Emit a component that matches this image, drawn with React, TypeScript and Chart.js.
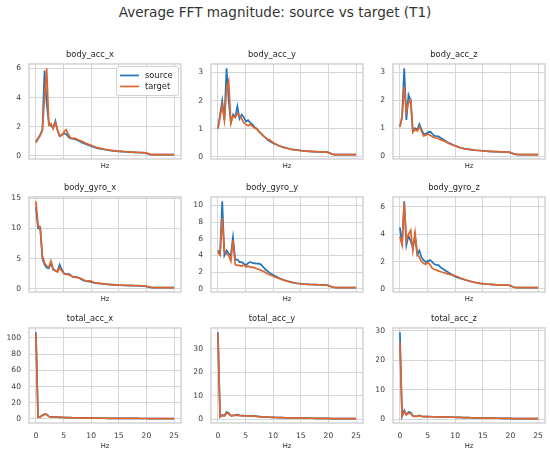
import React, { useEffect, useRef } from "react";
import { Chart, registerables } from "chart.js";

Chart.register(...registerables);

const FONT = "'DejaVu Sans', 'Liberation Sans', sans-serif";
const SOURCE_COLOR = "#1f74bb";
const TARGET_COLOR = "#e0652d";
const GRID_COLOR = "#d6d6d6";
const FRAME_COLOR = "#cccccc";
const TEXT_COLOR = "#262626";
const TICK_COLOR = "#3a3a3a";

const MAIN_TITLE = "Average FFT magnitude: source vs target (T1)";
const X_LABEL = "Hz";
const SERIES_NAMES = ["source", "target"];
const PANEL_TITLES = [
  "body_acc_x", "body_acc_y", "body_acc_z",
  "body_gyro_x", "body_gyro_y", "body_gyro_z",
  "total_acc_x", "total_acc_y", "total_acc_z",
];

const HZ = [
  0.00, 0.39, 0.78, 1.17, 1.56, 1.95, 2.34, 2.73, 3.13, 3.52,
  3.91, 4.30, 4.69, 5.08, 5.47, 5.86, 6.25, 6.64, 7.03, 7.42,
  7.81, 8.20, 8.59, 8.98, 9.38, 9.77, 10.16, 10.55, 10.94, 11.33,
  11.72, 12.11, 12.50, 12.89, 13.28, 13.67, 14.06, 14.45, 14.84, 15.23,
  15.63, 16.02, 16.41, 16.80, 17.19, 17.58, 17.97, 18.36, 18.75, 19.14,
  19.53, 19.92, 20.31, 20.70, 21.09, 21.48, 21.88, 22.27, 22.66, 23.05,
  23.44, 23.83, 24.22, 24.61, 25.00,
];
const X_TICKS = [0, 5, 10, 15, 20, 25];

const BODY_ACC_X_SOURCE = [
  1.00, 1.20, 1.45, 1.80, 5.85, 3.60, 2.25, 2.05, 1.95, 2.40,
  1.75, 1.35, 1.45, 1.55, 1.50, 1.30, 1.20, 1.18, 1.15, 1.10,
  1.02, 0.95, 0.88, 0.82, 0.76, 0.70, 0.65, 0.60, 0.56, 0.52,
  0.49, 0.46, 0.43, 0.41, 0.39, 0.37, 0.35, 0.33, 0.32, 0.31,
  0.30, 0.29, 0.28, 0.27, 0.26, 0.25, 0.25, 0.24, 0.23, 0.23,
  0.22, 0.20, 0.15, 0.11, 0.09, 0.09, 0.09, 0.09, 0.09, 0.09,
  0.09, 0.09, 0.09, 0.09, 0.09,
];
const BODY_ACC_X_TARGET = [
  0.90, 1.15, 1.40, 1.75, 4.00, 6.00, 2.10, 2.20, 1.85, 2.30,
  1.80, 1.35, 1.40, 1.65, 1.80, 1.50, 1.25, 1.20, 1.22, 1.15,
  1.08, 1.02, 0.95, 0.88, 0.82, 0.76, 0.70, 0.65, 0.60, 0.56,
  0.52, 0.49, 0.46, 0.43, 0.41, 0.39, 0.37, 0.35, 0.33, 0.32,
  0.31, 0.30, 0.29, 0.28, 0.27, 0.26, 0.25, 0.25, 0.24, 0.24,
  0.23, 0.21, 0.16, 0.11, 0.09, 0.09, 0.09, 0.09, 0.09, 0.09,
  0.09, 0.09, 0.09, 0.09, 0.09,
];
const BODY_ACC_Y_SOURCE = [
  1.00, 1.50, 2.00, 1.30, 3.15, 2.00, 1.20, 1.50, 1.40, 1.80,
  1.35, 1.50, 1.40, 1.25, 1.30, 1.20, 1.15, 1.05, 1.00, 0.90,
  0.82, 0.75, 0.68, 0.60, 0.55, 0.50, 0.46, 0.43, 0.40, 0.37,
  0.34, 0.32, 0.30, 0.28, 0.26, 0.25, 0.24, 0.23, 0.22, 0.21,
  0.20, 0.20, 0.19, 0.19, 0.18, 0.18, 0.17, 0.17, 0.17, 0.16,
  0.16, 0.15, 0.12, 0.09, 0.07, 0.07, 0.07, 0.07, 0.07, 0.07,
  0.07, 0.07, 0.07, 0.07, 0.07,
];
const BODY_ACC_Y_TARGET = [
  1.00, 1.40, 1.85, 1.30, 2.40, 2.70, 1.20, 1.45, 1.40, 1.55,
  1.45, 1.35, 1.20, 1.15, 1.10, 1.15, 1.08, 1.02, 0.98, 0.90,
  0.82, 0.74, 0.68, 0.62, 0.60, 0.53, 0.48, 0.44, 0.40, 0.37,
  0.34, 0.32, 0.30, 0.28, 0.26, 0.25, 0.24, 0.23, 0.22, 0.21,
  0.20, 0.20, 0.19, 0.19, 0.18, 0.18, 0.18, 0.17, 0.17, 0.17,
  0.16, 0.15, 0.12, 0.09, 0.07, 0.07, 0.07, 0.07, 0.07, 0.07,
  0.07, 0.07, 0.07, 0.07, 0.07,
];
const BODY_ACC_Z_SOURCE = [
  1.05, 1.40, 3.15, 1.30, 2.20, 2.00, 0.90, 1.00, 0.95, 1.15,
  0.95, 0.80, 0.80, 0.85, 0.88, 0.80, 0.72, 0.72, 0.70, 0.65,
  0.60, 0.55, 0.50, 0.46, 0.42, 0.39, 0.36, 0.33, 0.30, 0.28,
  0.26, 0.25, 0.24, 0.23, 0.22, 0.21, 0.20, 0.20, 0.19, 0.18,
  0.18, 0.17, 0.17, 0.16, 0.16, 0.16, 0.15, 0.15, 0.15, 0.15,
  0.14, 0.13, 0.10, 0.07, 0.06, 0.05, 0.05, 0.05, 0.05, 0.05,
  0.05, 0.05, 0.05, 0.05, 0.05,
];
const BODY_ACC_Z_TARGET = [
  1.05, 1.40, 2.50, 1.60, 1.90, 2.00, 0.85, 0.95, 0.90, 1.05,
  0.90, 0.72, 0.75, 0.80, 0.75, 0.70, 0.66, 0.65, 0.62, 0.58,
  0.55, 0.52, 0.48, 0.44, 0.41, 0.38, 0.35, 0.32, 0.30, 0.28,
  0.26, 0.25, 0.24, 0.23, 0.22, 0.21, 0.20, 0.20, 0.19, 0.18,
  0.18, 0.17, 0.17, 0.16, 0.16, 0.16, 0.15, 0.15, 0.15, 0.15,
  0.14, 0.13, 0.10, 0.07, 0.06, 0.05, 0.05, 0.05, 0.05, 0.05,
  0.05, 0.05, 0.05, 0.05, 0.05,
];
const BODY_GYRO_X_SOURCE = [
  13.50, 10.00, 10.00, 5.00, 4.00, 3.50, 3.40, 4.20, 3.20, 3.00,
  2.90, 4.00, 3.20, 2.60, 2.40, 2.50, 2.30, 2.00, 2.00, 1.95,
  1.80, 1.60, 1.40, 1.30, 1.25, 1.20, 1.10, 1.00, 0.95, 0.90,
  0.85, 0.82, 0.78, 0.75, 0.72, 0.70, 0.67, 0.65, 0.62, 0.60,
  0.58, 0.57, 0.56, 0.55, 0.54, 0.53, 0.52, 0.52, 0.51, 0.50,
  0.47, 0.42, 0.34, 0.26, 0.22, 0.20, 0.20, 0.20, 0.20, 0.20,
  0.20, 0.20, 0.20, 0.20, 0.20,
];
const BODY_GYRO_X_TARGET = [
  14.50, 10.50, 10.30, 5.50, 4.30, 3.80, 3.60, 4.60, 3.30, 3.00,
  2.80, 3.50, 3.00, 2.50, 2.40, 2.40, 2.20, 2.00, 1.90, 1.90,
  1.80, 1.70, 1.50, 1.35, 1.30, 1.35, 1.20, 1.05, 1.00, 0.95,
  0.90, 0.86, 0.82, 0.78, 0.75, 0.72, 0.70, 0.67, 0.65, 0.63,
  0.61, 0.60, 0.59, 0.58, 0.57, 0.56, 0.55, 0.54, 0.53, 0.52,
  0.50, 0.45, 0.36, 0.28, 0.23, 0.21, 0.21, 0.21, 0.21, 0.21,
  0.21, 0.21, 0.21, 0.21, 0.21,
];
const BODY_GYRO_Y_SOURCE = [
  4.60, 4.20, 10.50, 4.00, 4.60, 4.20, 4.00, 6.20, 3.50, 3.50,
  3.20, 3.20, 3.00, 2.80, 3.10, 3.20, 3.10, 3.05, 3.00, 3.00,
  2.90, 2.60, 2.30, 2.10, 1.90, 1.75, 1.60, 1.45, 1.30, 1.20,
  1.10, 1.00, 0.92, 0.85, 0.78, 0.72, 0.67, 0.63, 0.60, 0.57,
  0.55, 0.53, 0.52, 0.50, 0.50, 0.49, 0.48, 0.47, 0.46, 0.45,
  0.44, 0.40, 0.30, 0.20, 0.15, 0.13, 0.13, 0.13, 0.13, 0.13,
  0.13, 0.13, 0.13, 0.13, 0.13,
];
const BODY_GYRO_Y_TARGET = [
  4.40, 4.00, 8.50, 4.50, 4.20, 4.00, 3.30, 5.80, 2.90, 2.80,
  2.80, 2.70, 2.90, 2.60, 2.70, 2.60, 2.60, 2.50, 2.40, 2.30,
  2.20, 2.10, 1.95, 1.80, 1.68, 1.55, 1.45, 1.35, 1.25, 1.15,
  1.06, 0.98, 0.90, 0.83, 0.77, 0.71, 0.66, 0.62, 0.59, 0.56,
  0.54, 0.52, 0.51, 0.50, 0.49, 0.48, 0.47, 0.46, 0.45, 0.44,
  0.43, 0.39, 0.29, 0.19, 0.14, 0.12, 0.12, 0.12, 0.12, 0.12,
  0.12, 0.12, 0.12, 0.12, 0.12,
];
const BODY_GYRO_Z_SOURCE = [
  4.50, 3.20, 6.40, 3.20, 3.90, 3.50, 3.00, 3.90, 2.50, 2.80,
  2.30, 2.10, 1.95, 2.05, 2.10, 1.95, 1.80, 1.75, 1.72, 1.55,
  1.45, 1.35, 1.25, 1.15, 1.05, 0.95, 0.88, 0.82, 0.76, 0.72,
  0.67, 0.62, 0.58, 0.54, 0.50, 0.47, 0.44, 0.41, 0.39, 0.37,
  0.35, 0.34, 0.33, 0.32, 0.31, 0.30, 0.30, 0.29, 0.29, 0.28,
  0.28, 0.25, 0.18, 0.12, 0.10, 0.09, 0.09, 0.09, 0.09, 0.09,
  0.09, 0.09, 0.09, 0.09, 0.09,
];
const BODY_GYRO_Z_TARGET = [
  3.80, 3.20, 6.30, 3.50, 4.00, 4.30, 2.80, 4.10, 2.60, 2.30,
  2.00, 1.85, 1.80, 1.95, 1.75, 1.50, 1.42, 1.38, 1.30, 1.25,
  1.20, 1.15, 1.10, 1.05, 1.02, 1.00, 0.93, 0.87, 0.80, 0.74,
  0.68, 0.63, 0.58, 0.54, 0.50, 0.47, 0.44, 0.41, 0.39, 0.37,
  0.35, 0.34, 0.33, 0.32, 0.31, 0.30, 0.30, 0.29, 0.29, 0.28,
  0.28, 0.25, 0.18, 0.12, 0.10, 0.09, 0.09, 0.09, 0.09, 0.09,
  0.09, 0.09, 0.09, 0.09, 0.09,
];
const TOTAL_ACC_X_SOURCE = [
  107.0, 2.0, 2.5, 4.5, 6.0, 5.5, 3.0, 2.5, 2.5, 2.7,
  2.2, 2.0, 1.9, 1.8, 1.7, 1.6, 1.5, 1.45, 1.4, 1.35,
  1.3, 1.25, 1.2, 1.15, 1.1, 1.05, 1.0, 0.97, 0.94, 0.91,
  0.88, 0.85, 0.82, 0.8, 0.78, 0.76, 0.74, 0.72, 0.7, 0.68,
  0.66, 0.64, 0.62, 0.6, 0.59, 0.58, 0.57, 0.56, 0.55, 0.54,
  0.53, 0.5, 0.42, 0.35, 0.32, 0.31, 0.3, 0.3, 0.3, 0.3,
  0.3, 0.3, 0.3, 0.3, 0.3,
];
const TOTAL_ACC_X_TARGET = [
  105.5, 1.8, 2.3, 4.2, 5.8, 5.7, 3.0, 2.4, 2.4, 2.5,
  2.1, 1.95, 1.85, 1.75, 1.65, 1.55, 1.5, 1.45, 1.4, 1.35,
  1.3, 1.25, 1.2, 1.15, 1.1, 1.05, 1.0, 0.97, 0.94, 0.91,
  0.88, 0.85, 0.82, 0.8, 0.78, 0.76, 0.74, 0.72, 0.7, 0.68,
  0.66, 0.64, 0.62, 0.6, 0.59, 0.58, 0.57, 0.56, 0.55, 0.54,
  0.53, 0.5, 0.42, 0.35, 0.32, 0.31, 0.3, 0.3, 0.3, 0.3,
  0.3, 0.3, 0.3, 0.3, 0.3,
];
const TOTAL_ACC_Y_SOURCE = [
  37.0, 1.0, 1.8, 1.5, 3.0, 2.3, 1.5, 1.6, 1.7, 1.9,
  1.6, 1.5, 1.5, 1.45, 1.4, 1.35, 1.3, 1.25, 1.2, 1.1,
  1.0, 0.95, 0.9, 0.86, 0.82, 0.78, 0.74, 0.7, 0.67, 0.64,
  0.61, 0.58, 0.56, 0.54, 0.52, 0.5, 0.48, 0.46, 0.45, 0.44,
  0.42, 0.41, 0.4, 0.39, 0.38, 0.37, 0.36, 0.35, 0.34, 0.33,
  0.32, 0.3, 0.25, 0.21, 0.2, 0.2, 0.2, 0.2, 0.2, 0.2,
  0.2, 0.2, 0.2, 0.2, 0.2,
];
const TOTAL_ACC_Y_TARGET = [
  36.6, 1.0, 1.5, 1.3, 2.5, 2.7, 1.4, 1.5, 1.6, 1.6,
  1.5, 1.45, 1.45, 1.4, 1.38, 1.34, 1.3, 1.25, 1.2, 1.1,
  1.0, 0.95, 0.9, 0.86, 0.82, 0.78, 0.74, 0.7, 0.67, 0.64,
  0.61, 0.58, 0.56, 0.54, 0.52, 0.5, 0.48, 0.46, 0.45, 0.44,
  0.42, 0.41, 0.4, 0.39, 0.38, 0.37, 0.36, 0.35, 0.34, 0.33,
  0.32, 0.3, 0.25, 0.21, 0.2, 0.2, 0.2, 0.2, 0.2, 0.2,
  0.2, 0.2, 0.2, 0.2, 0.2,
];
const TOTAL_ACC_Z_SOURCE = [
  29.5, 1.0, 3.0, 1.5, 2.5, 2.3, 1.2, 1.0, 1.1, 1.3,
  1.0, 0.9, 0.9, 0.88, 0.86, 0.85, 0.84, 0.82, 0.8, 0.78,
  0.76, 0.74, 0.72, 0.7, 0.69, 0.68, 0.66, 0.63, 0.6, 0.58,
  0.56, 0.54, 0.52, 0.5, 0.48, 0.46, 0.44, 0.42, 0.41, 0.4,
  0.39, 0.38, 0.37, 0.36, 0.35, 0.34, 0.33, 0.32, 0.31, 0.3,
  0.3, 0.28, 0.23, 0.2, 0.19, 0.19, 0.19, 0.19, 0.19, 0.19,
  0.19, 0.19, 0.19, 0.19, 0.19,
];
const TOTAL_ACC_Z_TARGET = [
  26.0, 1.0, 2.5, 1.6, 2.1, 2.0, 1.1, 0.95, 1.0, 1.2,
  0.95, 0.88, 0.88, 0.86, 0.85, 0.84, 0.83, 0.81, 0.79, 0.77,
  0.76, 0.74, 0.72, 0.7, 0.69, 0.68, 0.66, 0.63, 0.6, 0.58,
  0.56, 0.54, 0.52, 0.5, 0.48, 0.46, 0.44, 0.42, 0.41, 0.4,
  0.39, 0.38, 0.37, 0.36, 0.35, 0.34, 0.33, 0.32, 0.31, 0.3,
  0.3, 0.28, 0.23, 0.2, 0.19, 0.19, 0.19, 0.19, 0.19, 0.19,
  0.19, 0.19, 0.19, 0.19, 0.19,
];

const Y_TICKS_BODY_ACC_X = [0, 2, 4, 6];
const Y_TICKS_BODY_ACC_Y = [0, 1, 2, 3];
const Y_TICKS_BODY_ACC_Z = [0, 1, 2, 3];
const Y_TICKS_BODY_GYRO_X = [0, 5, 10, 15];
const Y_TICKS_BODY_GYRO_Y = [0, 2, 4, 6, 8, 10];
const Y_TICKS_BODY_GYRO_Z = [0, 2, 4, 6];
const Y_TICKS_TOTAL_ACC_X = [0, 20, 40, 60, 80, 100];
const Y_TICKS_TOTAL_ACC_Y = [0, 10, 20, 30];
const Y_TICKS_TOTAL_ACC_Z = [0, 10, 20, 30];

const PANELS = [
  { source: BODY_ACC_X_SOURCE, target: BODY_ACC_X_TARGET, yTicks: Y_TICKS_BODY_ACC_X },
  { source: BODY_ACC_Y_SOURCE, target: BODY_ACC_Y_TARGET, yTicks: Y_TICKS_BODY_ACC_Y },
  { source: BODY_ACC_Z_SOURCE, target: BODY_ACC_Z_TARGET, yTicks: Y_TICKS_BODY_ACC_Z },
  { source: BODY_GYRO_X_SOURCE, target: BODY_GYRO_X_TARGET, yTicks: Y_TICKS_BODY_GYRO_X },
  { source: BODY_GYRO_Y_SOURCE, target: BODY_GYRO_Y_TARGET, yTicks: Y_TICKS_BODY_GYRO_Y },
  { source: BODY_GYRO_Z_SOURCE, target: BODY_GYRO_Z_TARGET, yTicks: Y_TICKS_BODY_GYRO_Z },
  { source: TOTAL_ACC_X_SOURCE, target: TOTAL_ACC_X_TARGET, yTicks: Y_TICKS_TOTAL_ACC_X },
  { source: TOTAL_ACC_Y_SOURCE, target: TOTAL_ACC_Y_TARGET, yTicks: Y_TICKS_TOTAL_ACC_Y },
  { source: TOTAL_ACC_Z_SOURCE, target: TOTAL_ACC_Z_TARGET, yTicks: Y_TICKS_TOTAL_ACC_Z },
];

// layout (px)
const COL_LEFT = [29, 211, 393];
const ROW_TOP = [64, 197, 328];
const PLOT_W = 152;
const PLOT_H = 95;
const Y_AXIS_W = 30;
const TITLE_H = 14;
const RIGHT_PAD = 5;

const framePlugin = {
  id: "frame",
  beforeDatasetsDraw(chart: any) {
    const { ctx, chartArea: a } = chart;
    ctx.save();
    ctx.strokeStyle = FRAME_COLOR;
    ctx.lineWidth = 1.3;
    ctx.strokeRect(a.left, a.top, a.right - a.left, a.bottom - a.top);
    ctx.restore();
  },
};

const insetLegendPlugin = {
  id: "insetLegend",
  afterDatasetsDraw(chart: any) {
    const { ctx, chartArea: a } = chart;
    const bw = 62;
    const bh = 29;
    const x = a.right - 2.5 - bw;
    const y = a.top + 2.5;
    const r = 2;
    ctx.save();
    ctx.beginPath();
    ctx.moveTo(x + r, y);
    ctx.lineTo(x + bw - r, y);
    ctx.arcTo(x + bw, y, x + bw, y + r, r);
    ctx.lineTo(x + bw, y + bh - r);
    ctx.arcTo(x + bw, y + bh, x + bw - r, y + bh, r);
    ctx.lineTo(x + r, y + bh);
    ctx.arcTo(x, y + bh, x, y + bh - r, r);
    ctx.lineTo(x, y + r);
    ctx.arcTo(x, y, x + r, y, r);
    ctx.closePath();
    ctx.fillStyle = "rgba(255,255,255,0.85)";
    ctx.fill();
    ctx.strokeStyle = "#d2d2d2";
    ctx.lineWidth = 1;
    ctx.stroke();
    chart.data.datasets.forEach((ds: any, i: number) => {
      const ly = y + 9 + i * 11;
      ctx.beginPath();
      ctx.moveTo(x + 3.5, ly);
      ctx.lineTo(x + 22.5, ly);
      ctx.strokeStyle = ds.borderColor;
      ctx.lineWidth = 1.7;
      ctx.stroke();
      ctx.fillStyle = TEXT_COLOR;
      ctx.font = `8.3px ${FONT}`;
      ctx.textBaseline = "middle";
      ctx.textAlign = "left";
      ctx.fillText(ds.label, x + 28.5, ly);
    });
    ctx.restore();
  },
};

function Panel({ index }: { index: number }) {
  const ref = useRef<HTMLCanvasElement>(null);
  const row = Math.floor(index / 3);
  const col = index % 3;
  const bottomRow = row === 2;
  const xAxisH = bottomRow ? 27 : 12;
  const w = Y_AXIS_W + PLOT_W + RIGHT_PAD;
  const h = TITLE_H + PLOT_H + xAxisH;

  useEffect(() => {
    const p = PANELS[index];
    const all = [...p.source, ...p.target];
    const lo = Math.min(...all);
    const hi = Math.max(...all);
    const m = (hi - lo) * 0.05;
    const chart = new Chart(ref.current as HTMLCanvasElement, {
      type: "line",
      data: {
        datasets: [
          {
            label: SERIES_NAMES[0],
            data: p.source.map((y, i) => ({ x: HZ[i], y })),
            borderColor: SOURCE_COLOR,
            backgroundColor: SOURCE_COLOR,
            borderWidth: 1.7,
            pointRadius: 0,
            tension: 0,
            fill: false,
            order: 2,
          },
          {
            label: SERIES_NAMES[1],
            data: p.target.map((y, i) => ({ x: HZ[i], y })),
            borderColor: TARGET_COLOR,
            backgroundColor: TARGET_COLOR,
            borderWidth: 1.7,
            pointRadius: 0,
            tension: 0,
            fill: false,
            order: 1,
          },
        ],
      },
      options: {
        animation: false,
        responsive: false,
        maintainAspectRatio: false,
        events: [],
        layout: { padding: { left: 0, right: RIGHT_PAD, top: 0, bottom: 0 } },
        plugins: {
          legend: { display: false },
          tooltip: { enabled: false },
          title: {
            display: true,
            text: PANEL_TITLES[index],
            color: TEXT_COLOR,
            font: { family: FONT, size: 8.3, lineHeight: 1.2, weight: "normal" },
            padding: { top: 0, bottom: 4 },
          },
        },
        scales: {
          x: {
            type: "linear",
            bounds: "data",
            min: -1.25,
            max: 26.25,
            afterBuildTicks: (axis: any) => {
              axis.ticks = X_TICKS.map((v) => ({ value: v }));
            },
            afterFit: (axis: any) => {
              axis.height = xAxisH;
              axis.paddingLeft = 0;
              axis.paddingRight = 0;
            },
            grid: { color: GRID_COLOR, lineWidth: 1, drawTicks: false },
            border: { display: false },
            ticks: {
              display: bottomRow,
              padding: 8,
              color: TICK_COLOR,
              autoSkip: false,
              maxRotation: 0,
              font: { family: FONT, size: 7.6, lineHeight: 1.2 },
            },
            title: {
              display: true,
              text: X_LABEL,
              color: TEXT_COLOR,
              font: { family: FONT, size: 6.8, lineHeight: 1.2 },
              padding: { top: 0, bottom: bottomRow ? 0 : 0.3 },
            },
          },
          y: {
            type: "linear",
            bounds: "data",
            min: lo - m,
            max: hi + m,
            afterBuildTicks: (axis: any) => {
              axis.ticks = p.yTicks.map((v) => ({ value: v }));
            },
            afterFit: (axis: any) => {
              axis.width = Y_AXIS_W;
              axis.paddingTop = 0;
              axis.paddingBottom = 0;
            },
            grid: { color: GRID_COLOR, lineWidth: 1, drawTicks: false },
            border: { display: false },
            ticks: {
              padding: 8,
              color: TICK_COLOR,
              autoSkip: false,
              font: { family: FONT, size: 7.6, lineHeight: 1.2 },
            },
          },
        },
      } as any,
      plugins: index === 0 ? [framePlugin, insetLegendPlugin] : [framePlugin],
    });
    return () => chart.destroy();
  }, [index]);

  return (
    <canvas
      ref={ref}
      width={w}
      height={h}
      style={{
        position: "absolute",
        left: COL_LEFT[col] - Y_AXIS_W,
        top: ROW_TOP[row] - TITLE_H,
        width: w,
        height: h,
      }}
    />
  );
}

export default function App() {
  return (
    <div
      style={{
        position: "fixed",
        left: 0,
        top: 0,
        width: 550,
        height: 455,
        background: "#ffffff",
        overflow: "hidden",
      }}
    >
      <div
        style={{
          position: "absolute",
          left: 0,
          top: 3,
          width: 550,
          height: 18,
          lineHeight: "18px",
          textAlign: "center",
          fontFamily: FONT,
          fontSize: 13.6,
          color: "#333333",
          whiteSpace: "nowrap",
        }}
      >
        {MAIN_TITLE}
      </div>
      {PANELS.map((_, i) => (
        <Panel key={i} index={i} />
      ))}
    </div>
  );
}
